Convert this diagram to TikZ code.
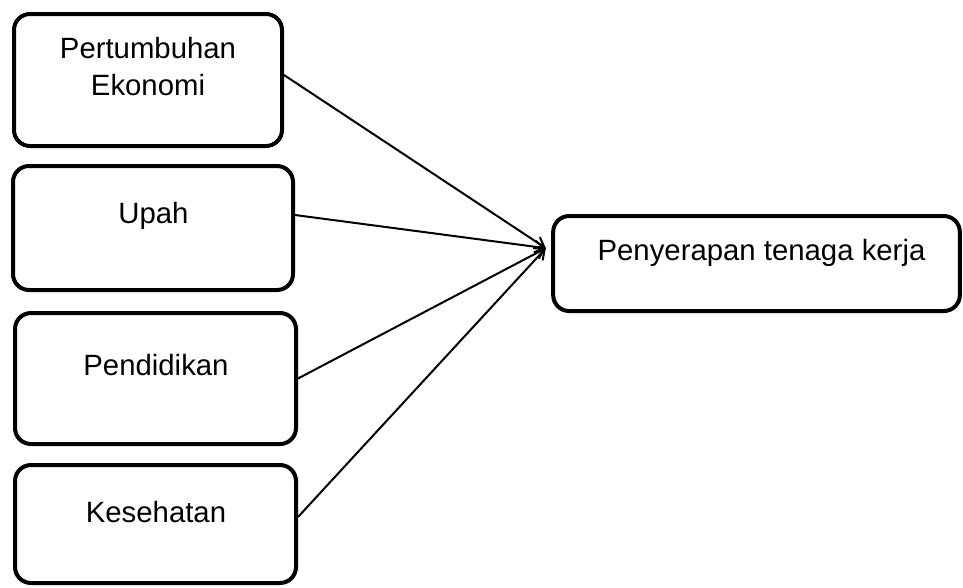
\documentclass[tikz,border=0pt]{standalone}
\usepackage{fontspec}
\setmainfont{Liberation Sans}
\usetikzlibrary{arrows.meta, positioning}

\begin{document}
\begin{tikzpicture}[x=0.75pt, y=-0.75pt,
    kotak/.style={draw, line width=3pt, rounded corners=12pt, inner sep=0pt},
    teks/.style={anchor=base, align=center, inner sep=0pt, font=\fontsize{22}{27.75}\selectfont},
    panah/.style={line width=1.5pt, -{Straight Barb[length=7pt, width=9pt]}}]
  \useasboundingbox (0,0) rectangle (963,587);
  % variabel bebas
  \node[kotak, minimum width=201pt, minimum height=99pt] (pe) at (148,80) {};
  \node[kotak, minimum width=210pt, minimum height=93pt] (up) at (153,228) {};
  \node[kotak, minimum width=210.75pt, minimum height=98.25pt] (pd) at (155.5,378.5) {};
  \node[kotak, minimum width=210.75pt, minimum height=88.5pt] (ks) at (155.5,524) {};
  % variabel terikat
  \node[kotak, minimum width=305pt, minimum height=71.25pt] (pk) at (756.5,263.5) {};

  \node[teks] (tpe) at (148,95) {Pertumbuhan\\Ekonomi};
  \node[teks] (tup) at (153.5,223) {Upah};
  \node[teks] (tpd) at (156,375) {Pendidikan};
  \node[teks] (tks) at (156,522) {Kesehatan};
  \node[teks] (tpk) at (761.5,260) {Penyerapan tenaga kerja};

  \coordinate (ujung) at ([xshift=-4pt, yshift=11.5pt]pk.west);
  \draw[panah] ([yshift=3.75pt]pe.east) -- (ujung);
  \draw[panah] ([yshift=9.75pt]up.east) -- (ujung);
  \draw[panah] (pd.east) -- (ujung);
  \draw[panah] ([yshift=5.25pt]ks.east) -- (ujung);
\end{tikzpicture}
\end{document}
